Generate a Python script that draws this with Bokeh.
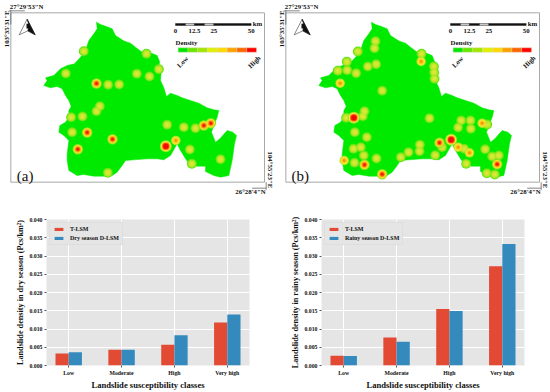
import numpy as np
from bokeh.plotting import figure
from bokeh.layouts import column, row
from bokeh.models import Range1d, FixedTicker, Label, Legend, LegendItem
from bokeh.embed import file_html
from bokeh.resources import INLINE
from bokeh.core.properties import value

SERIF = "Liberation Serif"

# ---- map data (map units) ----
outline_x = [288,300,318,335,345,360,372,390,405,425,450,470,478,472,482,480,490,498,510,530,545,570,595,620,640,655,650,640,633,645,658,680,697,708,702,695,685,660,640,615,615,590,570,555,540,530,510,490,470,440,400,375,365,350,335,310,280,250,230,205,200,200,205,190,175,178,195,205,205,212,205,195,185,170,150,130,140,135,160,180,200,222,240,255,265,280,290]
outline_y = [65,72,78,85,105,115,122,128,140,155,157,165,185,200,215,240,262,288,278,285,292,300,308,322,328,330,350,375,395,425,415,390,395,405,430,480,525,530,525,513,497,497,495,475,450,430,465,478,475,475,478,480,495,515,525,527,527,522,525,510,480,460,420,405,395,375,365,350,330,318,300,285,265,258,262,255,240,232,225,205,195,190,170,150,120,100,85]

spots_a_x = [250,438,196,409,447,475,288,323,356,298,288,212,246,500,550,585,610,631,215,260,336,232,496,526,568,660,574,322]
spots_a_y = [152,160,219,220,228,206,249,253,252,317,332,350,348,373,380,383,375,368,395,396,416,446,437,420,447,476,490,517]
spots_a_l = [1,1,1,1,1,1,3,1,1,1,1,1,1,1,1,1,3,3,1,3,3,3,4,2,1,1,1,1]

spots_b_x = [300,297,247,438,437,214,302,277,187,215,242,475,476,477,194,320,267,235,262,212,462,557,585,620,635,548,586,238,274,527,492,500,433,432,234,256,629,548,566,582,399,376,479,265,303,650,670,206,237,267,665,572,320,634,658]
spots_b_y = [122,143,153,160,183,184,191,198,211,209,218,198,215,235,248,271,332,352,347,352,353,360,360,368,372,381,385,395,410,418,427,440,433,452,445,440,446,440,445,457,455,470,464,465,474,468,465,480,487,493,491,490,521,518,522]
spots_b_l = [1,1,1,1,2,1,1,1,1,1,1,1,1,1,2,1,1,4,1,1,1,1,1,2,1,1,1,1,1,4,3,1,1,1,1,1,1,2,1,2,1,1,1,1,1,1,1,2,1,3,3,1,3,1,1]

density_colors = ["#00e600","#66e600","#a0e600","#e0f000","#ffd800","#ffa000","#ff6400","#ff0000"]
scale_km = ["0","12.5","25","50"]

# ---- bar data ----
classes = ["Low","Moderate","High","Very high"]
dry_t = [0.0033,0.0043,0.0057,0.0118]
dry_d = [0.0036,0.0043,0.0083,0.0140]
rainy_t = [0.0027,0.0077,0.0155,0.0272]
rainy_d = [0.0026,0.0065,0.0149,0.0333]
density_ticks = [0.0,0.005,0.01,0.015,0.02,0.025,0.03,0.035,0.04]

RING = [(1,10,"#5ce612"),(1,8,"#a0e620"),(1,6,"#c8e62e"),(1,3.5,"#dce838"),
        (2,9.5,"#b0e428"),(2,7.5,"#f0e632"),(2,5,"#fac814"),(2,2.5,"#fa8c14"),
        (3,10.5,"#90e41e"),(3,8.5,"#f0e632"),(3,6.5,"#fab414"),(3,4.5,"#fa5a0a"),(3,2.5,"#f01414"),
        (4,12,"#a0e428"),(4,10,"#f4ea46"),(4,8,"#fa9614"),(4,6.5,"#fa3c0a"),(4,5,"#f00a0a")]

def txt(p, x, y, s, size=6.8, angle=0, align="left", baseline="middle", bold=True):
    p.text([x],[y],text=[s],text_font=value(SERIF),text_font_size=f"{size}px",
           text_font_style="bold" if bold else "normal",text_color="#111111",
           angle=angle,text_align=align,text_baseline=baseline)

def map_panel(sx, sy, sl, name):
    p = figure(width=275,height=196,x_range=Range1d(0,825),y_range=Range1d(588,0),
               x_axis_location=None,y_axis_location=None,toolbar_location=None,
               output_backend="svg",min_border=0,outline_line_color=None)
    p.grid.visible=False
    p.patch(outline_x,outline_y,fill_color="#00ea00",line_color="#00ea00",line_width=0.5)
    sx,sy,sl=np.array(sx),np.array(sy),np.array(sl)
    for lev,size,col in RING:
        m=sl==lev
        p.scatter(sx[m],sy[m],size=size,fill_color=col,line_color=None,marker="circle")
    p.quad(left=[31],right=[792],top=[37],bottom=[545],fill_color=None,line_color="#a8a8a8",line_width=1)
    p.line([26,73],[31,31],line_color="#666666",line_width=0.8)
    p.line([31,31],[28,72],line_color="#666666",line_width=0.8)
    p.line([755,797],[563,563],line_color="#666666",line_width=0.8)
    p.line([797,797],[545,568],line_color="#666666",line_width=0.8)
    txt(p,28,19,"27°29'53\"N")
    txt(p,17,85,"103°35'31\"E",angle=np.pi/2,align="center")
    txt(p,810,508,"104°55'23\"E",angle=-np.pi/2,align="center")
    txt(p,750,574,"26°28'4\"N",align="center")
    p.patch([56,80,104,82],[103,56,103,91],fill_color="#ffffff",line_color="#555555",line_width=0.7)
    p.patch([80,104,82,85],[56,103,91,74],fill_color="#111111",line_color="#111111",line_width=0.5)
    p.patch([78,88,88,78],[70,70,84,84],fill_color="#111111",line_color=None)
    edges=[525,555,582,612,640,752]
    cols=["#111111","#c8c8c8","#111111","#c8c8c8","#111111"]
    p.quad(left=edges[:-1],right=edges[1:],top=[69]*5,bottom=[75]*5,fill_color=cols,line_color="#111111",line_width=0.4)
    for x,s in zip([525,582,640,752],scale_km):
        txt(p,x,91,s,align="center")
    txt(p,771,70,"km",align="center")
    txt(p,525,126,"Density")
    n=len(density_colors); w=(768-533)/n
    p.quad(left=[533+i*w for i in range(n)],right=[533+(i+1)*w for i in range(n)],
           top=[142]*n,bottom=[155]*n,fill_color=density_colors,line_color="#d8d8b0",line_width=0.4)
    txt(p,546,184,"Low",angle=np.pi/4,align="center")
    txt(p,761,184,"High",angle=np.pi/4,align="center")
    txt(p,74,527,name,size=15,align="center",bold=False)
    return p

def bar_panel(t, d, ylabel, legend_d, name):
    idx=np.arange(len(classes))
    p = figure(width=275,height=196,x_range=Range1d(-0.42,3.42),y_range=Range1d(0,0.04),
               toolbar_location=None,output_backend="svg",
               min_border_left=46,min_border_right=26,min_border_top=23,min_border_bottom=22,
               outline_line_color=None,background_fill_color="#e5e5e5")
    a=p.vbar(x=idx-0.125,top=t,width=0.25,fill_color="#E24A33",line_color=None)
    b=p.vbar(x=idx+0.125,top=d,width=0.25,fill_color="#348ABD",line_color=None)
    p.grid.grid_line_color="#ffffff"; p.grid.grid_line_width=1
    p.xaxis.ticker=FixedTicker(ticks=list(idx))
    p.xaxis.major_label_overrides={int(i):c for i,c in zip(idx,classes)}
    p.yaxis.ticker=FixedTicker(ticks=density_ticks)
    p.yaxis.major_label_overrides={v:f"{v:.3f}" for v in density_ticks}
    for ax in (p.xaxis[0],p.yaxis[0]):
        ax.axis_line_color=None
        ax.major_tick_line_color="#555555"; ax.minor_tick_line_color=None
        ax.major_tick_out=2; ax.major_tick_in=0
        ax.major_label_text_font=SERIF; ax.major_label_text_font_style="bold"
        ax.major_label_text_font_size="5.8px"; ax.major_label_text_color="#111111"
        ax.major_label_standoff=2
        ax.axis_label_text_font=SERIF; ax.axis_label_text_font_style="bold"
        ax.axis_label_text_color="#111111"
    p.xaxis[0].axis_label="Landslide susceptibility classes"
    p.xaxis[0].axis_label_text_font_size="8.6px"; p.xaxis[0].axis_label_standoff=1
    p.yaxis[0].axis_label=ylabel
    p.yaxis[0].axis_label_text_font_size="8.2px"; p.yaxis[0].axis_label_standoff=1
    leg=Legend(items=[LegendItem(label="T-LSM",renderers=[a]),LegendItem(label=legend_d,renderers=[b])],
               location="top_left",background_fill_color="#e5e5e5",background_fill_alpha=1,
               border_line_color="#d8d8d8",border_line_width=0.7,
               label_text_font=SERIF,label_text_font_style="bold",label_text_font_size="6px",
               label_text_color="#111111",glyph_width=11,glyph_height=4,
               padding=3,margin=3,spacing=3,label_height=5,label_standoff=6)
    p.add_layout(leg,"center")
    p.add_layout(Label(x=-1.04,y=-0.0008,text=name,text_font=SERIF,text_font_size="15px",
                       text_color="#111111",text_align="center",text_baseline="middle"))
    return p

a=map_panel(spots_a_x,spots_a_y,spots_a_l,"(a)")
b=map_panel(spots_b_x,spots_b_y,spots_b_l,"(b)")
c=bar_panel(dry_t,dry_d,"Landslide density in dry season (Pcs/km²)","Dry season D-LSM","(c)")
d=bar_panel(rainy_t,rainy_d,"Landslide density in rainy season (Pcs/km²)","Rainy season D-LSM","(d)")
page=column(row(a,b),row(c,d))
open("out.html","w").write(file_html(page,INLINE))
